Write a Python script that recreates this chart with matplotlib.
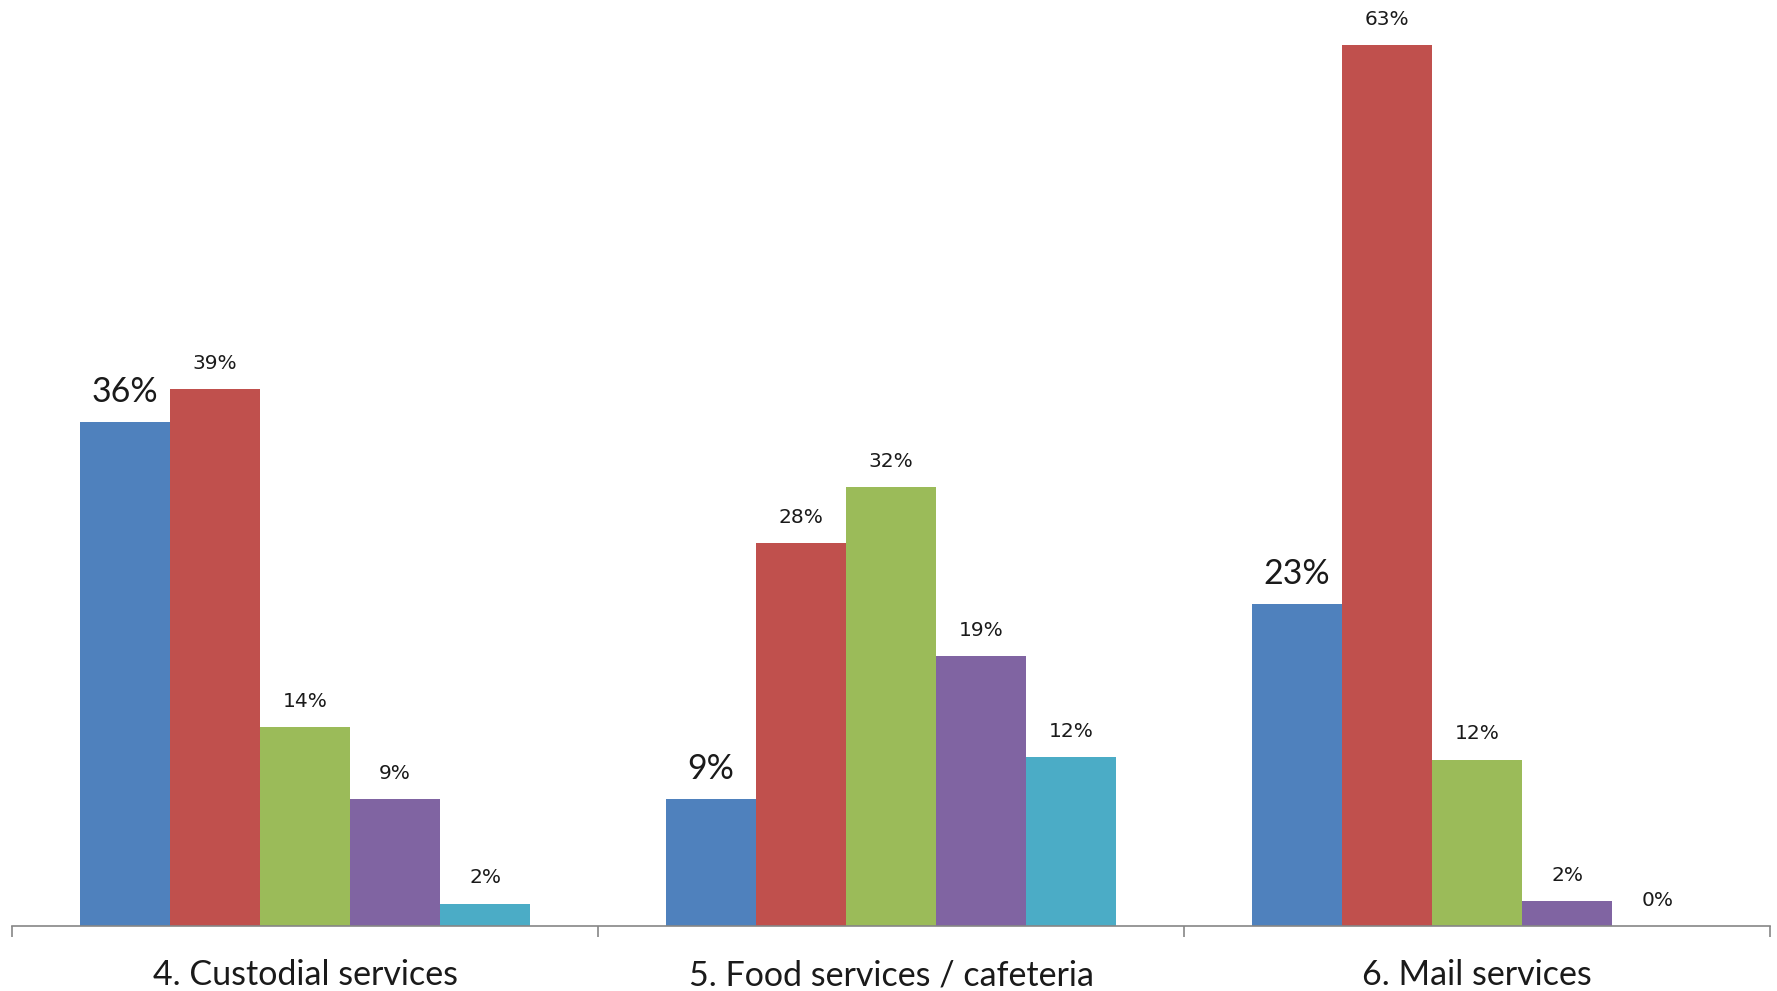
import numpy as np
import matplotlib
matplotlib.use('Agg')
import matplotlib.pyplot as plt

# data
categories = ['4. Custodial services', '5. Food services / cafeteria', '6. Mail services']
series_values = [
    [36.0, 9.1, 23.0],
    [38.4, 27.4, 63.0],
    [14.2, 31.4, 11.9],
    [9.1, 19.3, 1.8],
    [1.6, 12.1, 0.0],
]
series_labels = [
    ['36%', '9%', '23%'],
    ['39%', '28%', '63%'],
    ['14%', '32%', '12%'],
    ['9%', '19%', '2%'],
    ['2%', '12%', '0%'],
]
colors = ['#4F81BD', '#C0504D', '#9BBB59', '#8064A2', '#4BACC6']

fig = plt.figure(figsize=(17.77, 9.91), dpi=100)
ax = fig.add_axes([0.0068, 0.0656, 0.9894, 0.9344])

x = np.arange(len(categories))
bar_w = 0.1537
n = len(series_values)

for i, (vals, labs) in enumerate(zip(series_values, series_labels)):
    pos = x + (i - (n - 1) / 2) * bar_w
    ax.bar(pos, vals, width=bar_w, color=colors[i], linewidth=0)
    for px, v, lab in zip(pos, vals, labs):
        if i == 0:
            ax.annotate(lab, (px, v), xytext=(0, 14.5), textcoords='offset points',
                        ha='center', va='baseline', fontsize=24.5, family='Lato',
                        color='#1a1a1a')
        else:
            ax.annotate(lab, (px, v), xytext=(0, 14.5), textcoords='offset points',
                        ha='center', va='baseline', fontsize=14.5, family='DejaVu Sans',
                        color='#1a1a1a')

ax.set_xlim(-0.5, len(categories) - 0.5)
ax.set_ylim(0, 66.2)

# category boundaries as ticks, category names placed below the axis
ax.set_xticks(np.arange(len(categories) + 1) - 0.5)
ax.set_xticklabels([])
ax.tick_params(axis='x', which='major', length=8, width=1.2, color='#868686', direction='out')
ax.set_yticks([])
for xi, cat in zip(x, categories):
    ax.annotate(cat, (xi, 0), xytext=(0, -42.5), textcoords='offset points',
                ha='center', va='baseline', fontsize=24.5, family='Lato',
                color='#1a1a1a', annotation_clip=False)

for s in ['top', 'right', 'left']:
    ax.spines[s].set_visible(False)
ax.spines['bottom'].set_color('#868686')
ax.spines['bottom'].set_linewidth(1.2)
ax.set_facecolor('none')

fig.savefig('out.png', dpi=100)
